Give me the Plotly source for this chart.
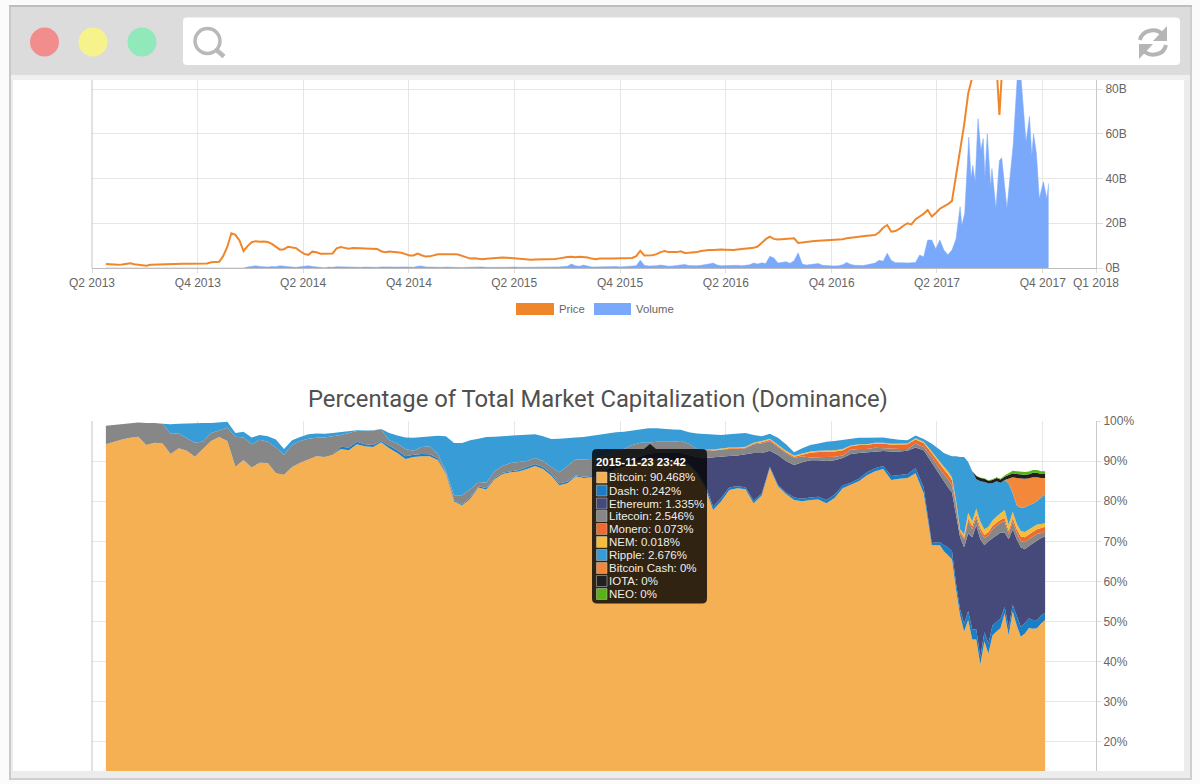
import numpy as np
import pandas as pd
import plotly.graph_objects as go

# ---------- top chart data (values in billions, as read against the 0B-80B axis) ----------
price_dates = list(pd.date_range("2013-04-25", periods=214, freq="7D").strftime("%Y-%m-%d")) + [
    "2017-06-02", "2017-06-12", "2017-06-25", "2017-07-08", "2017-07-14", "2017-07-18", "2017-07-22",
    "2017-08-01", "2017-08-20", "2017-09-01", "2017-09-15", "2017-10-01", "2017-10-11"]
price = [
    1.8,1.6,1.45,1.4,1.6,2.0,2.1,1.7,1.55,1.5,1.05,1.4,1.5,
    1.5,1.5,1.55,1.6,1.9,1.9,1.9,1.95,1.95,1.95,1.95,2,2,2.6,2.7,2.8,5.4,9.5,15.5,14.8,12.3,7.6,9.8,11.5,12,11.7,
    11.8,11.6,10.8,9.3,8.2,8.4,9.5,9.2,8.9,7.5,6.3,5.9,7.3,7,6.4,6.4,6.4,6.5,8.8,9.4,9,8.6,8.9,9,8.8,8.7,8.6,8.4,
    8.5,7.5,7,7.4,7.3,7.2,6.8,6.2,5.6,5.6,6.4,5.7,5.1,5.2,5.6,6.1,6.1,6.2,6.1,6.2,6,5.5,5,4.2,4.4,4.2,3.9,4.1,4.3,
    4.3,4.7,4.7,4.6,4.4,4.3,4.2,4,3.8,3.7,3.8,3.8,3.9,3.9,3.9,4,4.3,4.7,4.9,5,4.8,5,5,4.7,4.2,3.9,4.2,4.1,4.2,4.3,
    4.3,4.3,4.4,4.4,4.5,5.3,7.7,5.6,5.5,5.7,6.2,7.1,7.6,7.1,7.2,7.1,7.5,6.7,6.8,6.9,7.1,7.6,7.9,8,8.1,8.3,8.3,8.2,
    8,8,8.3,8.5,8.7,8.7,9,9.6,11.3,12.9,14,13,12.7,12.8,13.2,13.3,13.3,11.2,11.5,11.5,11.9,12.1,12.2,12.3,12.3,12.3,
    12.4,12.5,12.9,13.3,13.6,13.8,14,14.2,14.4,14.6,14.7,16,18,19.2,16.2,16.5,17.5,18.9,20,19.5,21.8,23,24.2,25.9,
    23,24.6,26.5,27.5,28.5,30,41,51.5,64,78,
    86,95,110,95,86,68.4,86,100,170,190,150,170,210]

volume_dates = list(pd.date_range("2013-04-25", periods=211, freq="7D").strftime("%Y-%m-%d")) + [
    "2017-05-11","2017-05-14","2017-05-19","2017-05-26","2017-05-30","2017-06-02","2017-06-06","2017-06-11",
    "2017-06-16","2017-06-20","2017-06-23","2017-06-27","2017-07-03","2017-07-05","2017-07-12","2017-07-18",
    "2017-07-22","2017-07-31","2017-08-11","2017-08-18","2017-08-24","2017-09-02","2017-09-08","2017-09-12",
    "2017-09-15","2017-09-20","2017-09-25","2017-10-02","2017-10-08","2017-10-11"]
volume = [0]*35 + [
    .4,.8,1,.7,.5,.4,.7,.6,1,.7,
    .5,.4,.3,.5,.6,1,.7,.5,.2,.1,
    .4,.3,.6,.5,.5,.4,.3,.2,.3,.4,
    .3,.2,.3,.5,.6,.5,.4,.5,.7,.5,
    .4,.3,.8,.9,.5,.4,.5,.3,.3,.4,
    .3,.4,.3,.2,.3,.4,.3,.4,.5,.3,.4,
    .4,.3,.3,.4,.3,.4,.3,.3,.2,.3,.4,.4,.3,.3,.4,.5,.5,.7,.8,1.8,1,.8,1.3,.9,.5,
    .5,.6,.5,.5,.6,.7,.5,.6,.7,.8,
    1,3.5,1.2,.9,.8,1,1.3,.9,.8,.9,
    1.1,1.2,1.6,1.1,.9,1,1.2,1.4,1.8,2.2,
    1.3,1,1.1,1.3,1.4,1.2,1,1.1,1.4,2.2,
    1.8,2.3,2,5.3,4.5,2.2,2.4,2.8,2.1,3.2,
    6.8,1.8,1.3,1.5,2,2,1.2,1,1,.9,
    1,1.5,2.5,1.6,1.2,1,1.1,1.4,1.8,2.2,
    3.5,3,6.6,3.4,2.4,
    2.2,2.3,2.2,2.3,2.5,5.8,5,12.5,12.5,8.5,12.5,8,5.9,8,13,
    27.4,19,24.4,58.5,40,45.9,38.5,66.7,52.6,57.8,40.7,60,36,44.4,26.7,48,49.3,26.7,55.6,86,86,56.3,67.7,50,60,51,31,38.5,31,37.8]

# ---------- bottom chart data (percent) ----------
dom_dates = list(pd.date_range("2013-04-25", periods=104, freq="14D").strftime("%Y-%m-%d")) + \
            list(pd.date_range("2017-04-13", periods=26, freq="7D").strftime("%Y-%m-%d"))
bitcoin = [
    94.2,94.8,95.4,95.8,96.1,94.0,94.6,94.4,91.8,93.2,
    92.6,91.1,93.0,95.0,96.0,95.0,88.6,90.3,88.4,89.6,
    89.5,87,86.6,88.5,89.6,90.5,91.2,91.0,91.5,93,
    92.7,94.2,93.7,93.5,94.7,93.2,92,90.5,91,91.2,
    91.2,90.3,86.8,80,78.9,80.6,83.4,82.9,85.5,86.8,
    87.2,87.4,88,88.8,88,86.4,84,84.5,86.2,85.8,
    86,86.5,87,88,88.6,89.5,90,90.5,90.3,90,
    90,89.5,89,87,83.5,77.8,80,82.8,83.2,83,
    79.5,81.4,88.3,83.7,81.8,80.3,80,80.3,80.4,79.5,
    80.8,83.2,84,85,86.5,87.5,88,85.3,85.6,85.8,
    87,82,69,69,67.5,66.5,65.5,58,51.5,47.5,
    50.4,45.5,45.5,39.2,45,42,46.5,47.5,48.4,52,
    46.6,52.5,49,46.2,47,48.4,48.2,48.3,49.5,50.4]
dash = [0]*29 + [.6,
    .7,.6,.5,.5,.4,.6,.7,.7,.6,.6,
    .5,.4,.3,.3,.3,.3,.3,.3,.3,.3,
    .3,.4,.5,.5,.5,.5,.4,.4,.3,.3,
    .3,.3,.3,.3,.3,.3,.3,.3,.3,.3,
    .3,.3,.3,.4,.7,.9,.8,.7,.5,.5,
    .6,.5,.3,.4,.4,.6,.6,.6,.7,.8,
    .9,.7,.6,.6,.7,.7,.8,1,1,1,
    1.2,1.5,.6,.8,1.5,2,2,1.5,1.5,2,
    2.2,2.5,2.5,2,2.3,2.5,2.5,2.4,2.4,1.6,
    2,1.6,2.4,2.5,2.6,2.4,2.2,2,2,1.8]
ethereum_top = [0]*62 + [
    88,89,89.5,90.3,91,91.9,92,92,
    92,92,91.5,91,90.8,91,91.2,91.3,91.4,91.7,
    92,92,92.6,91.5,90,89,89.7,90.2,90.2,90,
    90.2,90.8,91.8,92,92.2,92.4,92.5,92.4,92.4,92.6,
    93.4,92.7,89.6,86.5,85,83.5,82.2,77,71,68.5,
    72,71,74,70.5,69,70,70.8,71.5,72.2,72.2,
    70.5,73,70.5,68.5,68,68.8,69.5,70,70.8,71.2]
litecoin_top = [
    98.8,99.0,99.3,99.5,99.6,99.5,99.5,99.3,96.8,96.9,
    95.8,94.6,94.9,97,97.6,98.4,96.1,95.9,94.2,95.3,
    94.8,93.4,91.6,94,95,95.6,95.8,95.9,96.2,96.5,
    97,97.5,97.5,97.6,97.9,95.2,94.4,93,92.6,93.5,
    93.7,91.8,87.5,81.5,81.5,83,84.8,84.6,87.5,88.8,
    89.5,89.7,90,90.8,90,88.5,87.2,88.8,90.4,90.4,
    90.5,91,91.5,92.5,93,94,94.6,94.6,94.8,94.8,
    94.8,95,94.3,93,92.8,92.6,92.8,93,93,93.2,
    94.2,94.4,95,93.5,92,90.8,91.2,90.9,91,91,
    91.1,91.4,92.8,93,93,93.3,93.2,93,93,93,
    94.4,93.5,91,88,86.8,85.5,84,79,72,70.5,
    75,73,75.8,72.5,70.8,71.5,73,73.8,74.6,75,
    71.8,75,72,70,69.8,70.5,71.2,71.8,72.1,72.4]
monero = [0]*75 + [
    .1,.1,.2,.2,.2,.2,
    .3,.3,.3,.3,.3,.4,
    1.2,1.3,1.3,1.3,1.3,
    .9,1,1,1.1,1.2,1.1,1.2,1.2,
    1,1,1,1.1,1.1,1.2,1.2,
    .7,.5,.5,.7,.8,.8,.8,.8,.8,.8,.8,.8,.8,.8,.9,1,1.2,1.2,1.2,1.2,1.2,1.2,1.2]
nem = [0]*75 + [
    .2,.2,.2,.2,.2,.2,
    .3,.3,.3,.3,.3,.3,
    .3,.3,.3,.3,.3,
    .2,.2,.2,.2,.2,.2,.2,.2,
    .3,.3,.4,.6,.7,.8,.8,
    .5,.5,.7,1.4,1.2,1.6,1.6,1.4,1.3,1.4,1.6,1.6,2,1.5,1.5,1.4,1.4,1.3,1.3,1.3,1.2,1,.9]
ripple_top = [
    98.8,99.0,99.3,99.5,99.6,99.5,99.5,99.3,99.2,99.3,
    99.4,99.4,99.5,99.5,99.6,99.8,97,97.3,95.9,96.5,
    96.2,95.4,93,95.2,96,96.7,96.9,96.8,97,97.2,
    97.4,97.7,97.6,97.7,98,97,96.4,95.9,95.8,96,
    96.1,96.3,96.2,94.5,94.5,95.2,95.6,96,96.1,96.2,
    96.3,96.4,96.5,96.7,96.2,95.5,95.6,95.8,95.9,96,
    96.3,96.7,97,97.2,97.3,97.6,97.8,98.2,98.2,98,
    97.9,97.8,97.2,96.9,96.8,96.6,96.5,96.7,96.8,97,
    96.5,96.2,96.8,95.8,94.2,92.2,93.2,94,94.4,94.8,
    95,95.3,95.5,95.8,95.8,95.8,95.9,95.6,95.3,95.2,
    96.4,95.5,94.3,92.8,92,91.6,91.2,91.2,91,91,
    89.8,87.5,85.5,85,84.8,84.4,84.5,85,84.6,85.3,
    84.5,82,79,78.3,78.5,79,79.4,80,81,81.8]
bitcoin_cash = [0]*120 + [1.1,4,6.8,7.4,7.1,6.7,6.6,6,4.8,4]
iota = [0]*112 + [.8,.8,.8,.7,.8,.8,.8,.8,.9,1,1,1,1,1,1.1,1.1,1,1]
neo = [0]*112 + [.1,.1,.1,.1,.2,.2,.2,.3,.5,.6,.7,.7,.7,.7,.7,.7,.7,.7]

quarter_dates = ["2013-04-01","2013-10-01","2014-04-01","2014-10-01","2015-04-01","2015-10-01",
                 "2016-04-01","2016-10-01","2017-04-01","2017-10-01","2018-01-01"]
quarter_labels = ["Q2 2013","Q4 2013","Q2 2014","Q4 2014","Q2 2015","Q4 2015",
                  "Q2 2016","Q4 2016","Q2 2017","Q4 2017","Q1 2018"]
tooltip_title = "2015-11-23 23:42"
tooltip_rows = ["Bitcoin: 90.468%","Dash: 0.242%","Ethereum: 1.335%","Litecoin: 2.546%","Monero: 0.073%",
                "NEM: 0.018%","Ripple: 2.676%","Bitcoin Cash: 0%","IOTA: 0%","NEO: 0%"]
names = ["Bitcoin","Dash","Ethereum","Litecoin","Monero","NEM","Ripple","Bitcoin Cash","IOTA","NEO"]
colors = ["#F6B054","#1B7DC4","#454A7A","#878787","#EF6A2E","#F4BE3C","#389CD6","#F4883A","#202020","#57B414"]

# bands from the boundaries that were read
b = np.array(bitcoin, float); d = np.array(dash, float)
cum = b + d
eth = np.maximum(np.array(ethereum_top, float) - cum, 0); cum = cum + eth
ltc = np.maximum(np.array(litecoin_top, float) - cum, 0); cum = cum + ltc
xmr = np.array(monero, float); nm = np.array(nem, float); cum = cum + xmr + nm
xrp = np.maximum(np.array(ripple_top, float) - cum, 0)
shares = [b, d, eth, ltc, xmr, nm, xrp, np.array(bitcoin_cash, float), np.array(iota, float), np.array(neo, float)]

W, H = 1200, 784
def X(p): return p / W
def Y(p): return 1 - p / H

fig = go.Figure()
fig.add_trace(go.Scatter(x=volume_dates, y=volume, name="Volume", mode="lines", line=dict(width=0.5, color="#7AA9FB"),
                         fill="tozeroy", fillcolor="#7AA9FB", xaxis="x", yaxis="y"))
fig.add_trace(go.Scatter(x=price_dates, y=price, name="Price", mode="lines", line=dict(width=2, color="#F0862A"),
                         xaxis="x", yaxis="y"))
for n, c, s in zip(names, colors, shares):
    fig.add_trace(go.Scatter(x=dom_dates, y=s, name=n, mode="lines", stackgroup="one", line=dict(width=0, color=c),
                             fillcolor=c, xaxis="x2", yaxis="y2"))

shapes, ann = [], []
def rect(x0, y0, x1, y1, fill, line=None, lw=0):
    shapes.append(dict(type="rect", xref="paper", yref="paper", x0=X(x0), x1=X(x1), y0=Y(y0), y1=Y(y1),
                       fillcolor=fill, line=dict(width=lw, color=line or fill), layer="above"))
def circle(cx, cy, r, fill, line=None, lw=0):
    shapes.append(dict(type="circle", xref="paper", yref="paper", x0=X(cx-r), x1=X(cx+r), y0=Y(cy-r), y1=Y(cy+r),
                       fillcolor=fill, line=dict(width=lw, color=line or fill), layer="above"))
def path(cmds, fill=None, line=None, lw=0):
    out = []
    for c in cmds:
        out.append(c[0] + " ".join(f"{X(c[i]):.5f},{Y(c[i+1]):.5f}" for i in range(1, len(c), 2)))
    shapes.append(dict(type="path", xref="paper", yref="paper", path=" ".join(out) + (" Z" if fill else ""),
                       fillcolor=fill or "rgba(0,0,0,0)", line=dict(width=lw, color=line or "rgba(0,0,0,0)"), layer="above"))
def rrect(x0, y0, x1, y1, r, fill):
    path([("M", x0+r, y0), ("L", x1-r, y0), ("Q", x1, y0, x1, y0+r), ("L", x1, y1-r), ("Q", x1, y1, x1-r, y1),
          ("L", x0+r, y1), ("Q", x0, y1, x0, y1-r), ("L", x0, y0+r), ("Q", x0, y0, x0+r, y0)], fill=fill)
def text(x, y, s, size=12, color="#666666", anchor="left", family="Liberation Sans"):
    ann.append(dict(xref="paper", yref="paper", x=X(x), y=Y(y), text=s, showarrow=False, xanchor=anchor, yanchor="middle",
                    font=dict(size=size, color=color, family=family), borderpad=0, borderwidth=0))

# legend of the top chart
rect(516, 303, 554, 315, "#F0862A")
text(559, 309, "Price", size=11.3)
rect(594, 303, 631, 315, "#7AA9FB")
text(636, 309, "Volume", size=11.3)

# title of the bottom chart
text(598, 398.5, "Percentage of Total Market Capitalization (Dominance)", size=23.8, color="#505050", anchor="center", family="Roboto")

# tooltip
path([("M", 644, 449), ("L", 650, 444), ("L", 656, 449)], fill="rgba(0,0,0,0.8)")
rrect(592, 449, 707, 603.5, 5, "rgba(0,0,0,0.8)")
text(596, 462, f"<b>{tooltip_title}</b>", size=11.4, color="#ffffff")
row_y = [477.5, 490.5, 503.5, 516, 529, 542, 555, 568, 581, 594]
for yy, row, c in zip(row_y, tooltip_rows, colors):
    rect(596.5, yy-5.5, 607, yy+5.5, c, "#cccccc", 0.5)
    text(609, yy, row, size=11.5, color="#eeeeee")

# browser window around the page
rect(0, 0, 1200, 6, "#fbfbfb")
rect(0, 0, 9, 784, "#fbfbfb")
rect(1192, 0, 1200, 784, "#fbfbfb")
rect(9, 771, 1192, 778, "#ececec")
rect(9, 778, 1192, 780, "#cfcfcf")
rect(0, 780, 1200, 784, "#fbfbfb")
rect(9, 6, 11, 780, "#c9c9c9")
rect(11, 6, 13, 778, "#ececec")
rect(1184, 6, 1190, 778, "#ececec")
rect(1190, 6, 1192, 780, "#cfcfcf")
rect(9, 5, 1192, 7, "#bdbdbd")
rect(11, 7, 1190, 75, "#DCDCDC")
rect(11, 75, 1190, 80, "#EFEFEF")
circle(44.5, 42, 14.5, "#F28D8D")
circle(93, 42, 14.5, "#F6F38C")
circle(142, 42, 14.5, "#90E8BB")
rrect(183, 17.5, 1180, 65, 4, "#FFFFFF")
circle(207.5, 41, 12.5, "rgba(0,0,0,0)", "#B9B9B9", 3.5)
path([("M", 216.5, 50), ("L", 224, 56.5)], line="#B9B9B9", lw=4.5)
# reload arrows
path([("M", 1140, 40), ("C", 1142, 30, 1156, 27, 1163, 35)], line="#B5B5B5", lw=4)
path([("M", 1167, 26), ("L", 1167, 41), ("L", 1153, 41)], fill="#B5B5B5")
path([("M", 1166, 45), ("C", 1164, 55, 1150, 58, 1143, 50)], line="#B5B5B5", lw=4)
path([("M", 1139, 59), ("L", 1139, 44), ("L", 1153, 44)], fill="#B5B5B5")

axis_x = dict(type="date", range=["2013-04-01", "2018-01-01"], tickmode="array", tickvals=quarter_dates,
              showgrid=True, gridcolor="#E6E6E6", gridwidth=1, zeroline=False, automargin=False,
              showline=True, linecolor="#BDBDBD", linewidth=1, fixedrange=True)
axis_y = dict(side="right", gridcolor="#E6E6E6", gridwidth=1, zeroline=False, ticks="outside", tickcolor="#DDDDDD",
              automargin=False, showline=True, linecolor="#C8C8C8", linewidth=1, fixedrange=True,
              tickfont=dict(size=12, color="#666666", family="Liberation Sans"))

fig.update_layout(
    template="none",
    width=W, height=H, margin=dict(l=0, r=0, t=0, b=0, pad=0), autosize=False, showlegend=False,
    paper_bgcolor="white", plot_bgcolor="white", hovermode=False,
    xaxis=dict(axis_x, domain=[X(92), X(1096)], anchor="y", ticktext=quarter_labels, ticks="outside", ticklen=4, tickcolor="#DDDDDD",
               tickfont=dict(size=12, color="#666666", family="Liberation Sans")),
    yaxis=dict(axis_y, domain=[Y(268), Y(80)], anchor="x", range=[0, 84.02], ticklen=6, tickmode="array", tickvals=[0,20,40,60,80],
               ticktext=["0B","20B","40B","60B","80B"]),
    xaxis2=dict(axis_x, domain=[X(92), X(1096)], anchor="y2", showticklabels=False, ticks=""),
    yaxis2=dict(axis_y, domain=[Y(771), Y(421)], anchor="x2", range=[12.72, 100], ticklen=4, tickmode="array",
                tickvals=[20,30,40,50,60,70,80,90,100], ticktext=[f"{v}%" for v in [20,30,40,50,60,70,80,90,100]]),
    shapes=shapes, annotations=ann)

# vertical axis line on the left of both plots
fig.add_shape(type="line", xref="paper", yref="paper", x0=X(92), x1=X(92), y0=Y(268), y1=Y(80), line=dict(color="#C4C4C4", width=1))
fig.add_shape(type="line", xref="paper", yref="paper", x0=X(92), x1=X(92), y0=Y(771), y1=Y(421), line=dict(color="#C4C4C4", width=1))

fig.write_html("out.html", config={"displayModeBar": False},
               post_script="document.documentElement.style.overflow='hidden';document.body.style.margin='0';document.body.style.overflow='hidden';")
